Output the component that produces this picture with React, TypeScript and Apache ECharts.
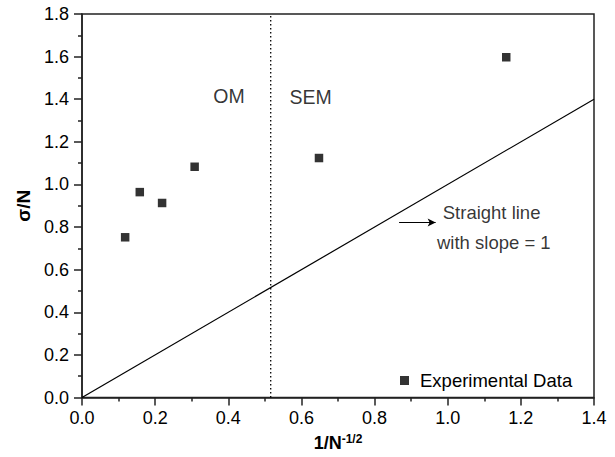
import React, { useEffect, useRef } from "react";
import * as echarts from "echarts";

const xInv: number[] = [0.118, 0.158, 0.219, 0.308, 0.648, 1.16];
const sigmaN: number[] = [0.752, 0.964, 0.913, 1.083, 1.124, 1.597];
const slopeLine: number[][] = [[0, 0], [1.4, 1.4]];
const boundaryX = 0.516;
const regionLabels = [
  { name: "OM", value: [0.402, 1.413] },
  { name: "SEM", value: [0.625, 1.41] },
];
const noteLines = [
  { name: "Straight line", value: [1.12, 0.866] },
  { name: "with slope = 1", value: [1.126, 0.728] },
];
const arrowFrom = [0.867, 0.821];
const arrowTo = [0.967, 0.821];

const FONT = "'Liberation Sans', Arial, Helvetica, sans-serif";

export default function App() {
  const ref = useRef<HTMLDivElement>(null);
  useEffect(() => {
    document.body.style.margin = "0";
    if (!ref.current) return;
    const chart = echarts.init(ref.current, null, { renderer: "svg" });
    const axisColor = "#222";
    chart.setOption({
      animation: false,
      backgroundColor: "#fff",
      textStyle: { fontFamily: FONT },
      grid: {
        left: 82,
        right: 21,
        top: 14,
        bottom: 57,
        show: true,
        borderColor: axisColor,
        borderWidth: 1.5,
      },
      legend: {
        data: ["Experimental Data"],
        left: 395,
        top: 366,
        icon: "rect",
        itemWidth: 9,
        itemHeight: 9,
        textStyle: { fontSize: 18.5, color: "#000", fontFamily: FONT, padding: [0, 0, 0, 6] },
      },
      xAxis: {
        type: "value",
        min: 0,
        max: 1.4,
        interval: 0.2,
        name: "1/N{sup|-1/2}",
        nameLocation: "middle",
        nameGap: 35,
        nameTextStyle: {
          fontSize: 18,
          fontWeight: "bold",
          color: "#000",
          fontFamily: FONT,
          rich: {
            sup: { fontSize: 12, fontWeight: "bold", color: "#000", fontFamily: FONT, padding: [0, 0, 9, 0] },
          },
        },
        axisLine: { show: true, lineStyle: { color: axisColor, width: 1.5 } },
        axisTick: { show: true, length: 8, lineStyle: { color: axisColor, width: 1.5 } },
        minorTick: { show: true, splitNumber: 2, length: 4, lineStyle: { color: axisColor, width: 1.5 } },
        splitLine: { show: false },
        axisLabel: {
          fontSize: 18,
          color: "#000",
          margin: 11,
          fontFamily: FONT,
          formatter: (v: number) => v.toFixed(1),
        },
      },
      yAxis: {
        type: "value",
        min: 0,
        max: 1.8,
        interval: 0.2,
        name: "σ/N",
        nameLocation: "middle",
        nameRotate: 90,
        nameGap: 44,
        nameTextStyle: { fontSize: 19, fontWeight: "bold", color: "#000", fontFamily: FONT },
        axisLine: { show: true, lineStyle: { color: axisColor, width: 1.5 } },
        axisTick: { show: true, length: 8, lineStyle: { color: axisColor, width: 1.5 } },
        minorTick: { show: true, splitNumber: 2, length: 4, lineStyle: { color: axisColor, width: 1.5 } },
        splitLine: { show: false },
        axisLabel: {
          fontSize: 18,
          color: "#000",
          margin: 13,
          fontFamily: FONT,
          formatter: (v: number) => v.toFixed(1),
        },
      },
      series: [
        {
          name: "Slope",
          type: "line",
          data: slopeLine,
          symbol: "none",
          lineStyle: { color: "#000", width: 1.2 },
          markLine: {
            silent: true,
            symbol: ["none", "arrow"],
            symbolSize: [6, 8],
            label: { show: false },
            lineStyle: { color: "#000", width: 1.2, type: "solid" },
            data: [[{ coord: arrowFrom }, { coord: arrowTo }]],
          },
        },
        {
          name: "Boundary",
          type: "line",
          data: [[boundaryX, 0], [boundaryX, 1.8]],
          symbol: "none",
          lineStyle: { color: "#000", width: 1.3, type: [1.5, 2.5] },
        },
        {
          name: "Experimental Data",
          type: "scatter",
          symbol: "rect",
          symbolSize: 8.5,
          itemStyle: { color: "#000" },
          data: xInv.map((x, i) => [x, sigmaN[i]]),
        },
        {
          name: "Regions",
          type: "scatter",
          symbolSize: 1,
          itemStyle: { color: "rgba(0,0,0,0)" },
          label: {
            show: true,
            position: "inside",
            formatter: "{b}",
            fontSize: 19.5,
            color: "#000",
            fontFamily: FONT,
          },
          data: regionLabels,
        },
        {
          name: "Notes",
          type: "scatter",
          symbolSize: 1,
          itemStyle: { color: "rgba(0,0,0,0)" },
          label: {
            show: true,
            position: "inside",
            formatter: "{b}",
            fontSize: 18.5,
            color: "#000",
            fontFamily: FONT,
          },
          data: noteLines,
        },
      ],
    });
    return () => chart.dispose();
  }, []);
  return <div ref={ref} style={{ width: 615, height: 457 }} />;
}
